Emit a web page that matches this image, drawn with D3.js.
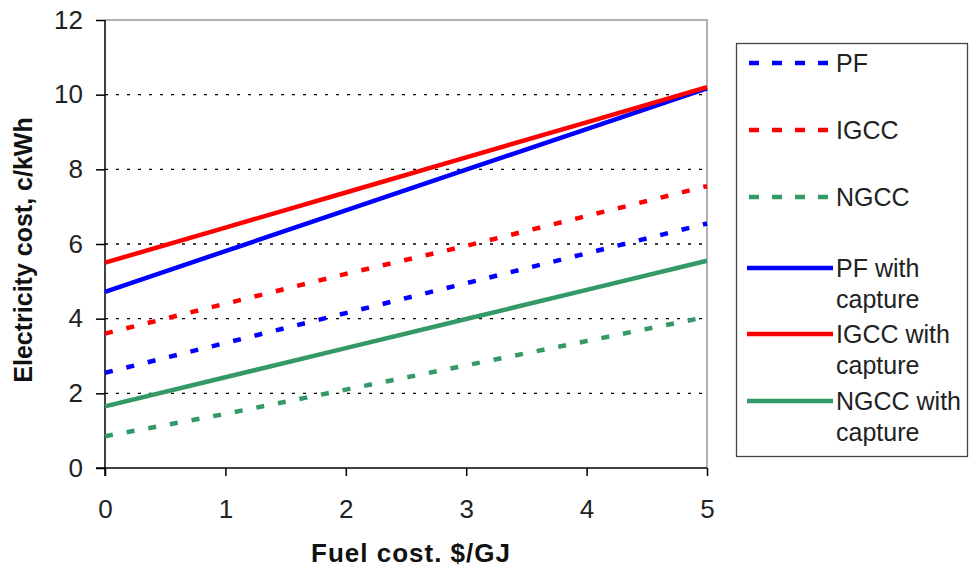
<!DOCTYPE html>
<html><head><meta charset="utf-8">
<script src="https://cdn.jsdelivr.net/npm/d3@7"></script>
<style>body{margin:0;background:#fff;} text{font-family:"Liberation Sans",Arial,sans-serif;}</style>
</head><body><svg id="c" width="969" height="571"></svg>
<script>
const fuelCost = [0, 1, 2, 3, 4, 5];
const pf = [2.55, 3.35, 4.15, 4.95, 5.75, 6.55];
const igcc = [3.6, 4.4, 5.2, 5.95, 6.75, 7.55];
const ngcc = [0.85, 1.45, 2.1, 2.75, 3.4, 4.05];
const pfCapture = [4.72, 5.81, 6.9, 7.99, 9.08, 10.17];
const igccCapture = [5.5, 6.44, 7.38, 8.32, 9.26, 10.2];
const ngccCapture = [1.65, 2.43, 3.21, 3.99, 4.77, 5.55];
const yTicks = [0, 2, 4, 6, 8, 10, 12];
const xTicks = [0, 1, 2, 3, 4, 5];
const seriesNames = ["PF", "IGCC", "NGCC", "PF with capture", "IGCC with capture", "NGCC with capture"];
const legendLines = [["PF"], ["IGCC"], ["NGCC"], ["PF with", "capture"], ["IGCC with", "capture"], ["NGCC with", "capture"]];

const series = [
  {name: seriesNames[0], values: pf, color: "#0000FF", dashed: true},
  {name: seriesNames[1], values: igcc, color: "#FF0000", dashed: true},
  {name: seriesNames[2], values: ngcc, color: "#339966", dashed: true},
  {name: seriesNames[3], values: pfCapture, color: "#0000FF", dashed: false},
  {name: seriesNames[4], values: igccCapture, color: "#FF0000", dashed: false},
  {name: seriesNames[5], values: ngccCapture, color: "#339966", dashed: false}
];

const svg = d3.select("#c");
const L = 105, R = 707, T = 20, B = 468;
const x = d3.scaleLinear().domain([0, 5]).range([L, R]);
const y = d3.scaleLinear().domain([0, 12]).range([B, T]);

// gridlines
svg.append("g").selectAll("line").data(yTicks.filter(d => d > 0 && d < 12)).join("line")
  .attr("x1", L).attr("x2", R).attr("y1", d => y(d)).attr("y2", d => y(d))
  .attr("stroke", "#000").attr("stroke-width", 1.3).attr("stroke-dasharray", "3,8");
// plot border top/right
svg.append("path").attr("d", `M${L},${T}H${R}V${B}`).attr("fill", "none").attr("stroke", "#999").attr("stroke-width", 1.5);

// axes
const yAxis = svg.append("g").attr("transform", `translate(${L},0)`)
  .call(d3.axisLeft(y).tickValues(yTicks).tickSize(9).tickPadding(13).tickFormat(d3.format("d")));
const xAxis = svg.append("g").attr("transform", `translate(0,${B})`)
  .call(d3.axisBottom(x).tickValues(xTicks).tickSize(8).tickPadding(24).tickFormat(d3.format("d")));
[yAxis, xAxis].forEach(a => {
  a.select(".domain").attr("stroke", "#000").attr("stroke-width", 1.5);
  a.selectAll(".tick line").attr("stroke", "#000").attr("stroke-width", 1.5);
  a.selectAll(".tick text").attr("font-size", 26).attr("fill", "#222").style("font-family", "Liberation Sans, Arial, sans-serif");
});
yAxis.select(".domain").attr("d", `M0,${T}V${B + 8}`);
xAxis.select(".domain").attr("d", `M${L - 9},0H${R}`);

// lines
const line = d3.line().x((d, i) => x(fuelCost[i])).y(d => y(d));
svg.append("g").selectAll("path").data(series).join("path")
  .attr("d", d => line(d.values)).attr("fill", "none")
  .attr("stroke", d => d.color).attr("stroke-width", 4.5)
  .attr("stroke-dasharray", d => d.dashed ? "8,14" : null);

// axis titles
svg.append("text").attr("transform", "translate(32,250) rotate(-90)").attr("text-anchor", "middle")
  .attr("font-size", 25).attr("font-weight", "bold").attr("fill", "#111").text("Electricity cost, c/kWh");
svg.append("text").attr("x", 411).attr("y", 562).attr("text-anchor", "middle")
  .attr("font-size", 26).attr("font-weight", "bold").attr("letter-spacing", 1).attr("fill", "#111").text("Fuel cost. $/GJ");

// legend
svg.append("rect").attr("x", 736.5).attr("y", 43.5).attr("width", 231).attr("height", 413)
  .attr("fill", "#fff").attr("stroke", "#444").attr("stroke-width", 1.3);
const legY = [63, 130, 197, 268, 334, 401];
const lg = svg.append("g").selectAll("g").data(series).join("g")
  .attr("transform", (d, i) => `translate(0,${legY[i]})`);
lg.append("line").attr("x1", d => d.dashed ? 749 : 747).attr("x2", 833).attr("y1", 0).attr("y2", 0)
  .attr("stroke", d => d.color).attr("stroke-width", 4.5)
  .attr("stroke-dasharray", d => d.dashed ? "10,13" : null);
lg.each(function(d, i) {
  const t = d3.select(this).append("text").attr("x", 836).attr("y", 9).attr("font-size", 25).attr("fill", "#222");
  legendLines[i].forEach((s, j) => t.append("tspan").attr("x", 836).attr("dy", j === 0 ? 0 : 31).text(s));
});
</script></body></html>
